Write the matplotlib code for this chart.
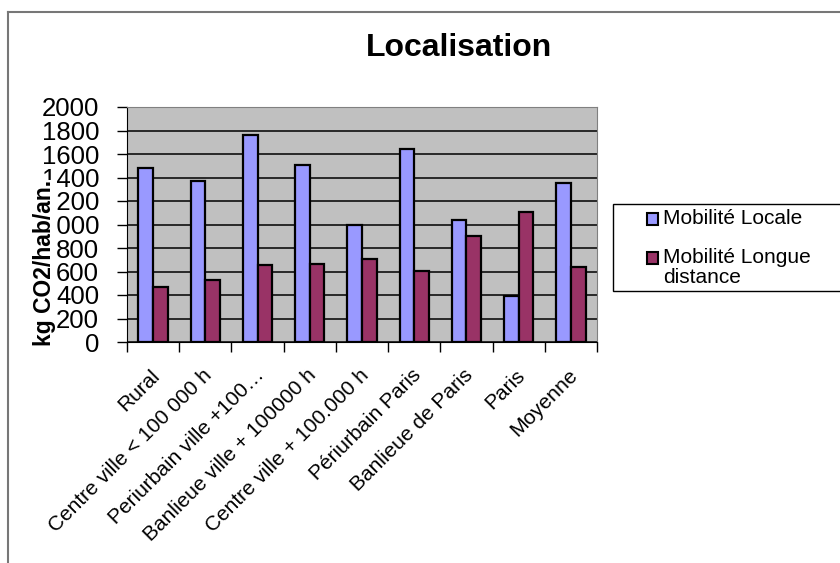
import numpy as np
from matplotlib import pyplot as plt
from matplotlib.lines import Line2D
from matplotlib.patches import Rectangle
import matplotlib.transforms as mtransforms

# Data.
CATEGORIES = ['Rural', 'Centre ville < 100 000 h', 'Periurbain ville +100\u2026',
              'Banlieue ville + 100000 h', 'Centre ville + 100.000 h',
              'Périurbain Paris', 'Banlieue de Paris', 'Paris', 'Moyenne']
LOCALE = [1480, 1370, 1760, 1505, 995, 1645, 1035, 390, 1355]
LONGUE = [470, 530, 655, 665, 705, 605, 900, 1110, 640]
SERIES_NAMES = ['Mobilité Locale', 'Mobilité Longue\ndistance']
SERIES_COLORS = ['#9999FF', '#993366']
Y_TICKS = [0, 200, 400, 600, 800, 1000, 1200, 1400, 1600, 1800, 2000]

plt.rcParams['font.family'] = ['Liberation Sans', 'DejaVu Sans']

W, H = 840, 563
FIG = plt.figure(figsize=(W / 100, H / 100), dpi=100)
AX = FIG.add_axes([127 / W, 1 - 342 / H, 470 / W, 235 / H])

x = np.arange(len(CATEGORIES))
w = 0.28
AX.bar(x - w / 2, LOCALE, w, color=SERIES_COLORS[0], edgecolor='black',
       linewidth=1.6, zorder=3)
AX.bar(x + w / 2, LONGUE, w, color=SERIES_COLORS[1], edgecolor='black',
       linewidth=1.6, zorder=3)

AX.set_facecolor('#C0C0C0')
AX.set_xlim(-0.5, len(CATEGORIES) - 0.5)
AX.set_ylim(0, 2000)
AX.set_yticks(Y_TICKS)
AX.set_yticklabels([str(v) for v in Y_TICKS], fontsize=18.5)
AX.grid(axis='y', color='black', linewidth=1.1, zorder=1)

# Category ticks on the boundaries, labels at the centres.
AX.set_xticks(np.arange(len(CATEGORIES) + 1) - 0.5)
AX.set_xticklabels([])
AX.set_xticks(x, minor=True)
AX.set_xticklabels(CATEGORIES, minor=True, rotation=45, ha='right',
                   va='top', rotation_mode='anchor', fontsize=15)
AX.tick_params(axis='x', which='minor', length=0, pad=17)
AX.tick_params(axis='x', which='major', length=7, width=1, direction='out')
AX.tick_params(axis='y', length=7, width=1, direction='out', pad=13)

# Nudge rotated labels a little to the left.
OFFSET = mtransforms.ScaledTranslation(-3 / 100, 0, FIG.dpi_scale_trans)
for lbl in AX.get_xticklabels(minor=True):
    lbl.set_transform(lbl.get_transform() + OFFSET)

for s in ['top', 'right']:
    AX.spines[s].set_color('#808080')
for s in ['left', 'bottom']:
    AX.spines[s].set_color('black')

# Y label sits on top of the tick labels and hides part of them.
FIG.text(45 / W, 1 - 263 / H, 'kg CO2/hab/an.', rotation=90,
         ha='center', va='center', fontsize=16.5, fontweight='bold',
         bbox=dict(facecolor='white', edgecolor='none', pad=0))

FIG.text(459 / W, 1 - 56 / H, 'Localisation', ha='center', va='baseline',
         fontsize=23, fontweight='bold')

# Legend drawn by hand (box runs off the right edge).
FIG.add_artist(Rectangle((613 / W, 1 - 291 / H), 240 / W, 87 / H,
                         transform=FIG.transFigure, facecolor='white',
                         edgecolor='black', linewidth=1.0))
for name, col, yc in zip(SERIES_NAMES, SERIES_COLORS, [219, 258]):
    FIG.add_artist(Rectangle((647 / W, 1 - (yc + 5.5) / H), 11 / W, 11 / H,
                             transform=FIG.transFigure, facecolor=col,
                             edgecolor='black', linewidth=1.5))
    # First line of each entry is centred on its square.
    FIG.text(663 / W, 1 - (yc - 10) / H, name, ha='left', va='top',
             fontsize=15, linespacing=1.05)

# Outer border (top and left only).
FIG.add_artist(Line2D([8 / W, 8 / W], [0, 1 - 12 / H],
                      color='#777777', linewidth=1.5))
FIG.add_artist(Line2D([8 / W, 1], [1 - 12 / H, 1 - 12 / H],
                      color='#777777', linewidth=1.5))

plt.savefig('out.png', dpi=100)
